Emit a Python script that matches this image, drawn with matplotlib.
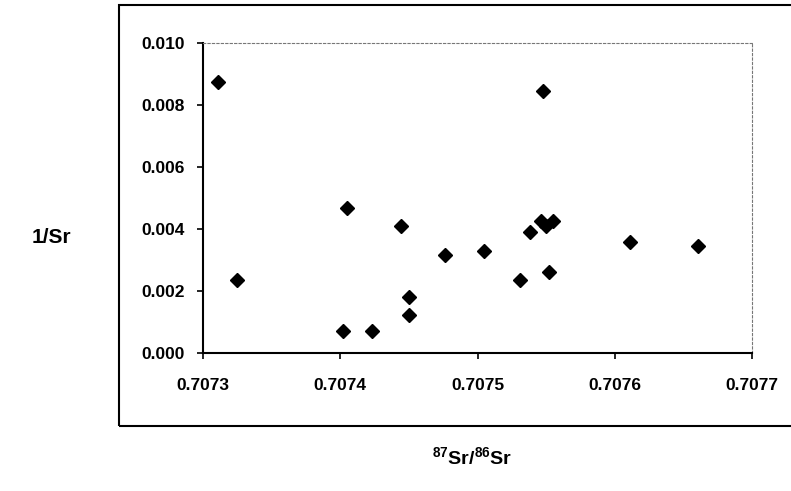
import matplotlib
matplotlib.use("Agg")
import matplotlib.pyplot as plt
from matplotlib.patches import Rectangle

plt.rcParams['font.family'] = ['Liberation Sans', 'DejaVu Sans']
plt.rcParams['mathtext.fontset'] = 'custom'
plt.rcParams['mathtext.rm'] = 'Liberation Sans:bold'
plt.rcParams['mathtext.it'] = 'Liberation Sans:bold'
plt.rcParams['mathtext.bf'] = 'Liberation Sans:bold'

# 87Sr/86Sr ratios and 1/Sr values
sr_ratio = [0.707311, 0.707548, 0.707325, 0.707405, 0.707444, 0.707476,
            0.707505, 0.707450, 0.707450, 0.707402, 0.707423, 0.707531,
            0.707538, 0.707546, 0.707550, 0.707555, 0.707552, 0.707611,
            0.707661]
inv_sr = [0.00875, 0.00845, 0.00235, 0.00467, 0.00410, 0.00316,
          0.00329, 0.00182, 0.00123, 0.00072, 0.00072, 0.00235,
          0.00391, 0.00426, 0.00410, 0.00426, 0.00260, 0.00359,
          0.00345]

xticks = [0.7073, 0.7074, 0.7075, 0.7076, 0.7077]
yticks = [0.000, 0.002, 0.004, 0.006, 0.008, 0.010]

fig = plt.figure(figsize=(7.91, 4.91), dpi=100)
ax = fig.add_axes([203/791, 1 - 353/491, (752-203)/791, (353-43)/491])

ax.plot(sr_ratio, inv_sr, 'D', color='black', markersize=7, linestyle='none')

ax.set_xlim(0.7073, 0.7077)
ax.set_ylim(0, 0.010)
ax.set_xticks(xticks)
ax.set_xticklabels([f"{t:.4f}" for t in xticks])
ax.set_yticks(yticks)
ax.set_yticklabels([f"{t:.3f}" for t in yticks])
ax.tick_params(direction='out', length=4, width=1.2, labelsize=12.5)
ax.tick_params(axis='x', pad=14)
ax.tick_params(axis='y', pad=9)
for lab in ax.get_xticklabels() + ax.get_yticklabels():
    lab.set_fontweight('bold')

ax.spines['left'].set_linewidth(1.5)
ax.spines['bottom'].set_linewidth(1.5)
for s in ['top', 'right']:
    ax.spines[s].set_linestyle((0, (2, 2)))
    ax.spines[s].set_color('#777777')
    ax.spines[s].set_linewidth(0.8)

# outer chart frame
fig.patches.append(Rectangle((119/791, 1 - 426/491), 1.0, (426-5)/491,
                             transform=fig.transFigure, fill=False,
                             edgecolor='black', linewidth=1.5))

fig.text(51/791, 1 - 238/491, '1/Sr', fontsize=15, fontweight='bold',
         ha='center', va='center')
fig.text(472/791, 1 - 457/491, r'$^{87}$Sr/$^{86}$Sr', fontsize=14,
         fontweight='bold', ha='center', va='center')

fig.savefig("out.png", dpi=100)
